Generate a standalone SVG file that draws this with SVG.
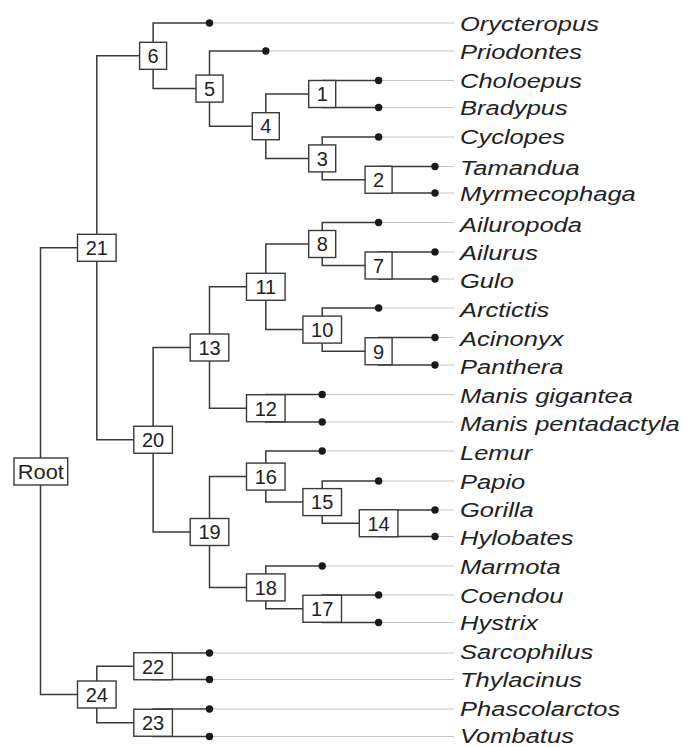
<svg xmlns="http://www.w3.org/2000/svg" width="697" height="747" viewBox="0 0 697 747">
<style>
.br{fill:none;stroke:#3a3a3a;stroke-width:1.5}
.tip{fill:none;stroke:#c4c4c4;stroke-width:1.2}
.box{fill:#fff;stroke:#3a3a3a;stroke-width:1.4}
.num{font-family:"Liberation Sans",Arial,sans-serif;font-size:20px;fill:#222;text-anchor:middle}
.dot{fill:#1a1a1a}
.lab{font-family:"Liberation Sans",Arial,sans-serif;font-size:21px;font-style:italic;fill:#222}
</style>
<rect width="697" height="747" fill="#fff"/>
<g id="connectors">
<path class="tip" d="M209.5 23H454M265.8 51H454M378.6 80.5H454M378.6 107.5H454M378.6 137H454M435 166.5H454M435 193H454M378.6 222.5H454M435 252H454M435 279H454M378.6 308H454M435 337.5H454M435 365H454M322.2 394.5H454M322.2 422H454M322.2 451H454M378.6 481H454M435 510H454M435 536.5H454M322.2 566H454M378.6 595H454M378.6 622.5H454M209.5 653H454M209.5 679.5H454M209.5 709H454M209.5 736.5H454"/>
<path class="br" d="M96.8 247.8H40.5V694.5H96.8"/>
<path class="br" d="M153.1 55.8H96.8V439.75H153.1"/>
<path class="br" d="M209.5 23H153.1V88.6H209.5"/>
<path class="br" d="M265.8 51H209.5V126.2H265.8"/>
<path class="br" d="M322.2 94H265.8V158.4H322.2"/>
<path class="br" d="M378.6 80.5H322.2V107.5H378.6"/>
<path class="br" d="M378.6 137H322.2V179.75H378.6"/>
<path class="br" d="M435 166.5H378.6V193H435"/>
<path class="br" d="M209.5 347.5H153.1V532H209.5"/>
<path class="br" d="M265.8 286.8H209.5V408.25H265.8"/>
<path class="br" d="M322.2 244H265.8V329.6H322.2"/>
<path class="br" d="M378.6 222.5H322.2V265.5H378.6"/>
<path class="br" d="M435 252H378.6V279H435"/>
<path class="br" d="M378.6 308H322.2V351.25H378.6"/>
<path class="br" d="M435 337.5H378.6V365H435"/>
<path class="br" d="M322.2 394.5H265.8V422H322.2"/>
<path class="br" d="M265.8 476.6H209.5V587.4H265.8"/>
<path class="br" d="M322.2 451H265.8V502.1H322.2"/>
<path class="br" d="M378.6 481H322.2V523.25H378.6"/>
<path class="br" d="M435 510H378.6V536.5H435"/>
<path class="br" d="M322.2 566H265.8V608.75H322.2"/>
<path class="br" d="M378.6 595H322.2V622.5H378.6"/>
<path class="br" d="M153.1 666.25H96.8V722.75H153.1"/>
<path class="br" d="M209.5 653H153.1V679.5H209.5"/>
<path class="br" d="M209.5 709H153.1V736.5H209.5"/>
</g>
<g id="node-root"><rect class="box" x="14" y="458" width="53.7" height="27"/><text class="num" x="40.8" y="478.7" textLength="46" lengthAdjust="spacingAndGlyphs">Root</text></g>
<g id="node-21"><rect class="box" x="77.5" y="234.3" width="38.6" height="27"/><text class="num" x="96.8" y="255">21</text></g>
<g id="node-24"><rect class="box" x="77.5" y="681" width="38.6" height="27"/><text class="num" x="96.8" y="701.7">24</text></g>
<g id="node-6"><rect class="box" x="139.6" y="42.3" width="27" height="27"/><text class="num" x="153.1" y="63">6</text></g>
<g id="node-20"><rect class="box" x="133.8" y="426.25" width="38.6" height="27"/><text class="num" x="153.1" y="447">20</text></g>
<g id="node-22"><rect class="box" x="133.8" y="652.75" width="38.6" height="27"/><text class="num" x="153.1" y="673.5">22</text></g>
<g id="node-23"><rect class="box" x="133.8" y="709.25" width="38.6" height="27"/><text class="num" x="153.1" y="730">23</text></g>
<g id="node-5"><rect class="box" x="196" y="75.1" width="27" height="27"/><text class="num" x="209.5" y="95.8">5</text></g>
<g id="node-13"><rect class="box" x="190.2" y="334" width="38.6" height="27"/><text class="num" x="209.5" y="354.7">13</text></g>
<g id="node-19"><rect class="box" x="190.2" y="518.5" width="38.6" height="27"/><text class="num" x="209.5" y="539.2">19</text></g>
<g id="node-4"><rect class="box" x="252.3" y="112.7" width="27" height="27"/><text class="num" x="265.8" y="133.4">4</text></g>
<g id="node-11"><rect class="box" x="246.5" y="273.3" width="38.6" height="27"/><text class="num" x="265.8" y="294">11</text></g>
<g id="node-12"><rect class="box" x="246.5" y="394.75" width="38.6" height="27"/><text class="num" x="265.8" y="415.5">12</text></g>
<g id="node-16"><rect class="box" x="246.5" y="463.1" width="38.6" height="27"/><text class="num" x="265.8" y="483.8">16</text></g>
<g id="node-18"><rect class="box" x="246.5" y="573.9" width="38.6" height="27"/><text class="num" x="265.8" y="594.6">18</text></g>
<g id="node-1"><rect class="box" x="308.7" y="80.5" width="27" height="27"/><text class="num" x="322.2" y="101.2">1</text></g>
<g id="node-3"><rect class="box" x="308.7" y="144.9" width="27" height="27"/><text class="num" x="322.2" y="165.6">3</text></g>
<g id="node-8"><rect class="box" x="308.7" y="230.5" width="27" height="27"/><text class="num" x="322.2" y="251.2">8</text></g>
<g id="node-10"><rect class="box" x="302.9" y="316.1" width="38.6" height="27"/><text class="num" x="322.2" y="336.8">10</text></g>
<g id="node-15"><rect class="box" x="302.9" y="488.6" width="38.6" height="27"/><text class="num" x="322.2" y="509.3">15</text></g>
<g id="node-17"><rect class="box" x="302.9" y="595.25" width="38.6" height="27"/><text class="num" x="322.2" y="616">17</text></g>
<g id="node-2"><rect class="box" x="365.1" y="166.25" width="27" height="27"/><text class="num" x="378.6" y="187">2</text></g>
<g id="node-7"><rect class="box" x="365.1" y="252" width="27" height="27"/><text class="num" x="378.6" y="272.7">7</text></g>
<g id="node-9"><rect class="box" x="365.1" y="337.75" width="27" height="27"/><text class="num" x="378.6" y="358.5">9</text></g>
<g id="node-14"><rect class="box" x="359.3" y="509.75" width="38.6" height="27"/><text class="num" x="378.6" y="530.5">14</text></g>
<g id="leaf-dots">
<circle class="dot" cx="209.5" cy="23" r="3.7"/>
<circle class="dot" cx="265.8" cy="51" r="3.7"/>
<circle class="dot" cx="378.6" cy="80.5" r="3.7"/>
<circle class="dot" cx="378.6" cy="107.5" r="3.7"/>
<circle class="dot" cx="378.6" cy="137" r="3.7"/>
<circle class="dot" cx="435" cy="166.5" r="3.7"/>
<circle class="dot" cx="435" cy="193" r="3.7"/>
<circle class="dot" cx="378.6" cy="222.5" r="3.7"/>
<circle class="dot" cx="435" cy="252" r="3.7"/>
<circle class="dot" cx="435" cy="279" r="3.7"/>
<circle class="dot" cx="378.6" cy="308" r="3.7"/>
<circle class="dot" cx="435" cy="337.5" r="3.7"/>
<circle class="dot" cx="435" cy="365" r="3.7"/>
<circle class="dot" cx="322.2" cy="394.5" r="3.7"/>
<circle class="dot" cx="322.2" cy="422" r="3.7"/>
<circle class="dot" cx="322.2" cy="451" r="3.7"/>
<circle class="dot" cx="378.6" cy="481" r="3.7"/>
<circle class="dot" cx="435" cy="510" r="3.7"/>
<circle class="dot" cx="435" cy="536.5" r="3.7"/>
<circle class="dot" cx="322.2" cy="566" r="3.7"/>
<circle class="dot" cx="378.6" cy="595" r="3.7"/>
<circle class="dot" cx="378.6" cy="622.5" r="3.7"/>
<circle class="dot" cx="209.5" cy="653" r="3.7"/>
<circle class="dot" cx="209.5" cy="679.5" r="3.7"/>
<circle class="dot" cx="209.5" cy="709" r="3.7"/>
<circle class="dot" cx="209.5" cy="736.5" r="3.7"/>
</g>
<g id="leaf-labels" class="lab" transform="translate(460,0) scale(1.215,1)">
<text id="leaf-orycteropus" x="0" y="31">Orycteropus</text>
<text id="leaf-priodontes" x="0" y="59.3">Priodontes</text>
<text id="leaf-choloepus" x="0" y="87.8">Choloepus</text>
<text id="leaf-bradypus" x="0" y="115.5">Bradypus</text>
<text id="leaf-cyclopes" x="0" y="144.5">Cyclopes</text>
<text id="leaf-tamandua" x="0" y="175">Tamandua</text>
<text id="leaf-myrmecophaga" x="0" y="201">Myrmecophaga</text>
<text id="leaf-ailuropoda" x="0" y="232">Ailuropoda</text>
<text id="leaf-ailurus" x="0" y="260.5">Ailurus</text>
<text id="leaf-gulo" x="0" y="288">Gulo</text>
<text id="leaf-arctictis" x="0" y="317">Arctictis</text>
<text id="leaf-acinonyx" x="0" y="346">Acinonyx</text>
<text id="leaf-panthera" x="0" y="374">Panthera</text>
<text id="leaf-manis-gigantea" x="0" y="403.3">Manis gigantea</text>
<text id="leaf-manis-pentadactyla" x="0" y="430.7">Manis pentadactyla</text>
<text id="leaf-lemur" x="0" y="460.5">Lemur</text>
<text id="leaf-papio" x="0" y="489">Papio</text>
<text id="leaf-gorilla" x="0" y="517.5">Gorilla</text>
<text id="leaf-hylobates" x="0" y="545">Hylobates</text>
<text id="leaf-marmota" x="0" y="574.5">Marmota</text>
<text id="leaf-coendou" x="0" y="603">Coendou</text>
<text id="leaf-hystrix" x="0" y="630.5">Hystrix</text>
<text id="leaf-sarcophilus" x="0" y="659.3">Sarcophilus</text>
<text id="leaf-thylacinus" x="0" y="687">Thylacinus</text>
<text id="leaf-phascolarctos" x="0" y="716">Phascolarctos</text>
<text id="leaf-vombatus" x="0" y="743.3">Vombatus</text>
</g>
</svg>
